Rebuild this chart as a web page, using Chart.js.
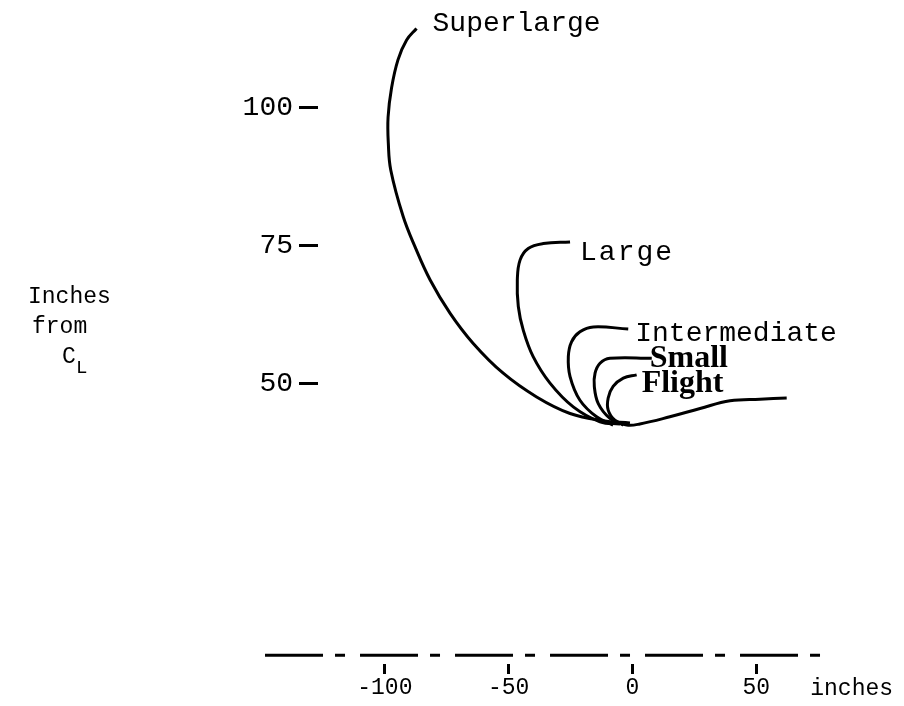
<!DOCTYPE html>
<html>
<head>
<meta charset="utf-8">
<script src="https://cdn.jsdelivr.net/npm/chart.js@4.4.1/dist/chart.umd.min.js"></script>
<style>
  html, body { margin: 0; padding: 0; background: #fff; }
  #wrap { width: 904px; height: 706px; }
</style>
</head>
<body>
<div id="wrap"><canvas id="myChart"></canvas></div>
<script>
// tick values
const xTicks = [-100, -50, 0, 50];
const yTicks = [50, 75, 100];

// curve traces, [x inches, y inches from CL]
const superlarge = [[-87.2, 114.3], [-91.2, 112.2], [-94.7, 108.6], [-97.3, 103.5], [-98.7, 98.2],
  [-98.6, 93.5], [-97.6, 88.6], [-92.6, 80.2], [-87.8, 74.7], [-81.7, 68.7], [-73.7, 62.7],
  [-64.3, 57.2], [-52.2, 51.8], [-38.7, 47.5], [-25.2, 44.5], [-12.0, 43.2], [-1, 42.8]];
const large = [[-25.2, 75.6], [-36.0, 75.3], [-42.1, 74.4], [-45.4, 72.3], [-46.5, 68.7], [-46.1, 63.9],
  [-44.1, 59.6], [-40.1, 54.8], [-33.3, 50.0], [-23.9, 45.7], [-13.1, 43.0], [-5, 42.6]];
const intermediate = [[-1.7, 59.8], [-15.8, 60.2], [-21.2, 59.3], [-24.6, 57.5], [-25.9, 54.8], [-25.2, 51.2],
  [-21.2, 46.9], [-14.5, 43.9], [-7.8, 42.4]];
const small = [[7.8, 54.5], [-9.1, 54.5], [-13.1, 53.6], [-15.1, 51.8], [-15.4, 49.4], [-13.8, 46.3],
  [-9.1, 43.6], [-3.7, 42.4]];
const flight = [[1.7, 51.5], [-3.7, 50.9], [-7.8, 49.4], [-9.8, 47.3], [-9.8, 45.1], [-7.1, 43.3],
  [-2.3, 42.4], [3.0, 42.6], [15.1, 43.9], [27.3, 45.4], [39.4, 46.8], [51.5, 47.1], [62.3, 47.3]];
const baseline = [[-148.4, 0.7], [81, 0.7]];

const mono = "'Liberation Mono', monospace";
const toPts = arr => arr.map(p => ({ x: p[0], y: p[1] }));

function curve(label, pts) {
  return {
    label: label,
    data: toPts(pts),
    showLine: true,
    borderColor: "#000",
    borderWidth: 3,
    pointRadius: 0,
    tension: 0.4,
    clip: false,
  };
}

const curveLabels = {
  id: "curveLabels",
  afterDatasetsDraw(chart, args, opts) {
    const { ctx, scales: { x, y } } = chart;
    ctx.save();
    ctx.fillStyle = "#000";
    ctx.textAlign = "left";
    ctx.textBaseline = "alphabetic";
    opts.items.forEach(it => {
      const ds = chart.data.datasets[it.ds];
      const p = ds.data[0];
      ctx.font = it.font;
      ctx.letterSpacing = it.spacing || "0px";
      ctx.fillText(ds.label, x.getPixelForValue(p.x) + it.dx, y.getPixelForValue(p.y) + it.dy);
    });
    ctx.letterSpacing = "0px";

    // axis captions
    ctx.font = "23px " + mono;
    ctx.fillText("Inches", 28, 303);
    ctx.fillText("from", 32, 333);
    ctx.fillText("C", 62, 363);
    ctx.font = "19px " + mono;
    ctx.fillText("L", 76, 373);
    ctx.font = "23px " + mono;
    ctx.fillText("inches", x.getPixelForValue(xTicks[xTicks.length - 1]) + 54, 695);
    ctx.restore();
  },
};

const ctx = document.getElementById("myChart").getContext("2d");

const myChart = new Chart(ctx, {
  type: "scatter",
  data: {
    datasets: [
      curve("Superlarge", superlarge),
      curve("Large", large),
      curve("Intermediate", intermediate),
      curve("Small", small),
      curve("Flight", flight),
      {
        label: "baseline",
        data: toPts(baseline),
        showLine: true,
        borderColor: "#000",
        borderWidth: 3,
        borderDash: [58, 12, 10, 15],
        pointRadius: 0,
        tension: 0,
        clip: false,
      },
    ],
  },
  plugins: [curveLabels],
  options: {
    responsive: true,
    maintainAspectRatio: false,
    animation: false,
    layout: { padding: { left: 228, right: 71, top: 8, bottom: 0 } },
    plugins: {
      legend: { display: false },
      tooltip: { enabled: false },
      curveLabels: {
        items: [
          { ds: 0, dx: 16, dy: 3, font: "28px " + mono },
          { ds: 1, dx: 10, dy: 18, font: "28px " + mono, spacing: "2px" },
          { ds: 2, dx: 7, dy: 12, font: "28px " + mono },
          { ds: 3, dx: -2, dy: 9, font: "bold 32px 'Liberation Serif', serif" },
          { ds: 4, dx: 5, dy: 17, font: "bold 32px 'Liberation Serif', serif" },
        ],
      },
    },
    scales: {
      x: {
        type: "linear",
        min: -127,
        max: 81,
        afterBuildTicks: s => { s.ticks = xTicks.map(v => ({ value: v })); },
        afterFit: s => { s.height = 47; s.paddingLeft = 0; s.paddingRight = 0; },
        border: { display: false },
        grid: {
          drawOnChartArea: false,
          drawTicks: true,
          tickLength: 15,
          tickWidth: 3,
          tickColor: "#000",
          tickBorderDash: [0, 5, 10, 100],
        },
        ticks: {
          color: "#000",
          font: { family: mono, size: 23 },
          padding: 0,
          maxRotation: 0,
          callback: v => String(v),
        },
      },
      y: {
        type: "linear",
        min: 0,
        max: 118,
        afterBuildTicks: s => { s.ticks = yTicks.map(v => ({ value: v })); },
        afterFit: s => { s.width = 90; s.paddingTop = 0; s.paddingBottom = 0; },
        border: { display: false },
        grid: {
          drawOnChartArea: false,
          drawTicks: true,
          tickLength: 19,
          tickWidth: 3,
          tickColor: "#000",
        },
        ticks: {
          color: "#000",
          font: { family: mono, size: 28 },
          padding: 6,
          callback: v => String(v),
        },
      },
    },
  },
});
</script>
</body>
</html>
